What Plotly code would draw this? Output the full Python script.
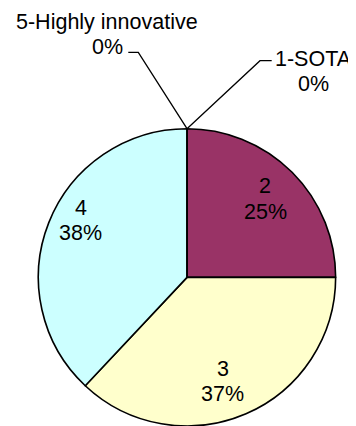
import plotly.graph_objects as go

# ---- data ----
labels = ["1-SOTA", "2", "3", "4", "5-Highly innovative"]
values = [0, 25, 37, 38, 0]
colors = ["#9999FF", "#993366", "#FFFFCC", "#CCFFFF", "#660066"]

# ---- layout constants (pixels; page body has an 8px margin) ----
OFF = 8
W, H = 356 - OFF, 426 - OFF
FONT = dict(family="Liberation Sans, Arial, sans-serif", size=21.5, color="black")
LINE_GAP = 25.5

cx, cy, r = 187 - OFF, 277.7 - OFF, 149
dom_x = [(cx - r) / W, (cx + r) / W]
dom_y = [0, (H - cy + r) / H]

# label block centers (reference pixels)
LABEL_POS = {
    "2": (265, 199),
    "3": (222.5, 381.5),
    "4": (80.5, 220.5),
    "5-Highly innovative": (107, 34.5),
    "1-SOTA": (313, 71.5),
}
# leader lines for the zero slices: (elbow, end) in reference pixels
LEADERS = {
    "5-Highly innovative": ((138.3, 52.3), (128.3, 52.3)),
    "1-SOTA": ((260, 60.7), (271.7, 60.7)),
}


def px(x):
    return (x - OFF) / W


def py(y):
    return 1 - (y - OFF) / H


fig = go.Figure(go.Pie(
    labels=labels,
    values=values,
    sort=False,
    direction="clockwise",
    rotation=0,
    marker=dict(colors=colors, line=dict(color="black", width=1.6)),
    textinfo="none",
    domain=dict(x=dom_x, y=dom_y),
    showlegend=False,
    hoverinfo="label+percent",
))

total = sum(values)
annotations = []
shapes = []
top = (cx + OFF, cy + OFF - r)
for lab, val in zip(labels, values):
    pct = val / total * 100
    tx, ty = LABEL_POS[lab]
    for k, line in enumerate([lab, f"{pct:.0f}%"]):
        annotations.append(dict(
            x=px(tx), y=py(ty + (k - 0.5) * LINE_GAP), xref="paper", yref="paper",
            text=line, showarrow=False,
            xanchor="center", yanchor="middle", align="center", font=FONT,
        ))
    if lab in LEADERS:
        (ex, ey), (fx, fy) = LEADERS[lab]
        path = (f"M {px(top[0])} {py(top[1])} L {px(ex)} {py(ey)} "
                f"L {px(fx)} {py(fy)}")
        shapes.append(dict(type="path", path=path, xref="paper", yref="paper",
                           line=dict(color="black", width=1.3)))

fig.update_layout(
    width=W, height=H,
    margin=dict(l=0, r=0, t=0, b=0),
    paper_bgcolor="white",
    plot_bgcolor="white",
    shapes=shapes,
    annotations=annotations,
)

fig.write_html("out.html")
